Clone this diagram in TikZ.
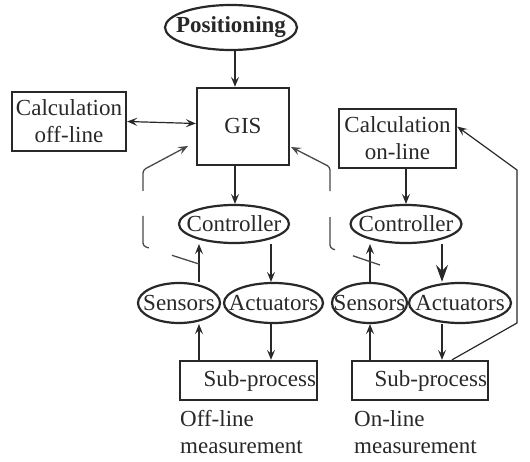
\documentclass[tikz,border=0pt]{standalone}
\usepackage{fontspec}
\setmainfont{Liberation Serif}
\usetikzlibrary{shapes.geometric,arrows.meta}
\definecolor{ink}{RGB}{40,40,40}
\tikzset{
  txt/.style={font=\fontsize{23}{27}\selectfont, text=ink},
  box/.style={txt, draw=ink, line width=2.3pt, rectangle, inner sep=0pt, align=center},
  oval/.style={txt, draw=ink, line width=2.2pt, ellipse, inner sep=0pt},
  arr/.style={draw=ink, line width=1.2pt, -{Stealth[length=10pt,width=8pt,inset=4pt]}},
  biarr/.style={draw=ink, line width=1.2pt, {Stealth[length=10pt,width=8pt,inset=4pt]}-{Stealth[length=10pt,width=8pt,inset=4pt]}},
  thickarr/.style={draw=ink, line width=2.4pt, -{Stealth[length=17pt,width=12pt,inset=6pt]}},
  fbline/.style={draw=ink!85, line width=1.3pt, -{Stealth[length=10pt,width=8pt,inset=4pt]}}
}
\begin{document}
\begin{tikzpicture}[x=1pt,y=-1pt]
\useasboundingbox (0,0) rectangle (530,462);

% top of the diagram
\node[oval, minimum width=132, minimum height=45] (pos) at (231,27.5) {\makebox[0pt]{\bfseries Positioning}};
\node[box, minimum width=92, minimum height=77] (gis) at (243,126.5) {GIS};
\node[box, minimum width=114, minimum height=59] (coff) at (69,121.5) {Calculation\\off-line};
\node[box, minimum width=117, minimum height=59] (con) at (397.5,138.5) {Calculation\\on-line};

% off-line loop
\node[oval, minimum width=110, minimum height=38] (ctrl1) at (234,224) {\makebox[0pt]{Controller}};
\node[oval, minimum width=82, minimum height=40] (sens1) at (179,303) {\makebox[0pt]{Sensors}};
\node[oval, minimum width=99, minimum height=40] (act1) at (273.5,303) {\makebox[0pt]{Actuators}};
\node[box, minimum width=137, minimum height=39, text width=135, align=right] (sp1) at (248.5,380.5) {Sub-process};
\node[txt, anchor=north west, align=left, inner sep=0pt] (lab1) at (180,410) {Off-line\\measurement};

% on-line loop
\node[oval, minimum width=111, minimum height=38] (ctrl2) at (406,224) {\makebox[0pt]{Controller}};
\node[oval, minimum width=75, minimum height=40] (sens2) at (369.5,303) {\makebox[0pt]{Sensors}};
\node[oval, minimum width=102, minimum height=40] (act2) at (460,303) {\makebox[0pt]{Actuators}};
\node[box, minimum width=136, minimum height=39, text width=134, align=right] (sp2) at (420,380.5) {Sub-process};
\node[txt, anchor=north west, align=left, inner sep=0pt] (lab2) at (354,410) {On-line\\measurement};

% column positions of the vertical connectors
\coordinate (xs1) at (199,0);
\coordinate (xa1) at (271,0);
\coordinate (xs2) at (370,0);
\coordinate (xa2) at (442,0);

% connectors
\draw[arr] ([xshift=4]pos.south) -- ([xshift=4]pos.south |- gis.north);
\draw[biarr] (coff.east) -- ([yshift=3]gis.west);
\draw[arr] ([xshift=-8]gis.south) -- ([xshift=-8]gis.south |- ctrl1.north);
\draw[arr] (sens1.north -| xs1) -- (ctrl1.south -| xs1);
\draw[arr] (ctrl1.south -| xa1) -- (act1.north -| xa1);
\draw[arr] (act1.south -| xa1) -- (sp1.north -| xa1);
\draw[arr] (sp1.north -| xs1) -- (sens1.south -| xs1);

\draw[arr] (con.south -| ctrl2.north) -- (ctrl2.north);
\draw[arr] (sens2.north -| xs2) -- (ctrl2.south -| xs2);
\draw[thickarr] (ctrl2.south -| xa2) -- (act2.north -| xa2);
\draw[arr] (act2.south -| xa2) -- (sp2.north -| xa2);
\draw[arr] (sp2.north -| xs2) -- (sens2.south -| xs2);

% on-line result returned to the calculation
\coordinate (fbA) at (517,323);
\coordinate (fbB) at (517,170);
\draw[arr] ([xshift=32]sp2.north) -- (fbA) -- (fbB) -- ([yshift=12]con.east);

% measured values passed back to the GIS
\coordinate (m1) at (199,264);
\coordinate (m1a) at (143,246);
\coordinate (m1b) at (143,170);
\coordinate (m1c) at (188,146);
\draw[fbline, dash pattern=on 28.4pt off 24.2pt on 35.4pt off 25pt on 200pt, rounded corners=3pt]
  (m1) -- (m1a) -- (m1b) -- (m1c);

\coordinate (m2) at (380,265);
\coordinate (m2a) at (330,248);
\coordinate (m2b) at (330,167);
\coordinate (m2c) at (291,147);
\draw[fbline, dash pattern=on 28.5pt off 19pt on 35.3pt off 26pt on 200pt, rounded corners=3pt]
  (m2) -- (m2a) -- (m2b) -- (m2c);
\end{tikzpicture}
\end{document}
